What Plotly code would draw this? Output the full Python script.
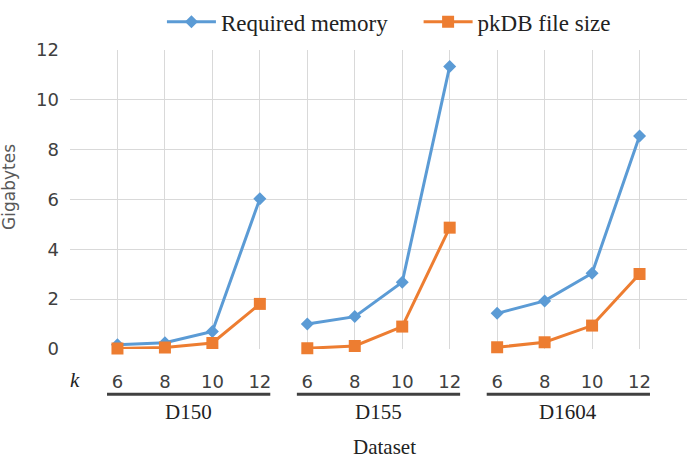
import plotly.graph_objects as go

groups = ["D150", "D155", "D1604"]
k_values = [6, 8, 10, 12]
required_memory = {
    "D150": [0.17, 0.25, 0.70, 6.03],
    "D155": [1.00, 1.30, 2.68, 11.34],
    "D1604": [1.43, 1.93, 3.04, 8.55],
}
pkdb_size = {
    "D150": [0.02, 0.06, 0.24, 1.81],
    "D155": [0.03, 0.12, 0.90, 4.87],
    "D1604": [0.07, 0.27, 0.94, 3.01],
}
y_ticks = [0, 2, 4, 6, 8, 10, 12]

BLUE = "#5B9BD5"
ORANGE = "#ED7D31"
GRID = "#D9D9D9"
SERIF = "Liberation Serif"
SANS = "DejaVu Sans"

n_k = len(k_values)

def build(series):
    xs, ys = [], []
    for gi, g in enumerate(groups):
        for ki, v in enumerate(series[g]):
            xs.append(gi * n_k + ki)
            ys.append(v)
        xs.append(None)
        ys.append(None)
    return xs, ys

fig = go.Figure()
x1, y1 = build(required_memory)
fig.add_trace(go.Scatter(
    x=x1, y=y1, name="Required memory", mode="lines+markers", legend="legend",
    line=dict(color=BLUE, width=3), connectgaps=False,
    marker=dict(symbol="diamond", size=10, color=BLUE), cliponaxis=False))
x2, y2 = build(pkdb_size)
fig.add_trace(go.Scatter(
    x=x2, y=y2, name="pkDB file size", mode="lines+markers", legend="legend2",
    line=dict(color=ORANGE, width=3), connectgaps=False,
    marker=dict(symbol="square", size=12, color=ORANGE), cliponaxis=False))

n_total = len(groups) * n_k
tickvals = list(range(-1, n_total + 1))
ticktext = [""] + [str(k) for _ in groups for k in k_values] + [""]

annotations = []
shapes = []
for gi, g in enumerate(groups):
    center = gi * n_k + (n_k - 1) / 2
    half = (n_k - 1) / 2 + 0.22
    shapes.append(dict(type="line", xref="x", yref="paper",
                       x0=center - half, x1=center + half, y0=-0.151, y1=-0.151,
                       line=dict(color="#404040", width=3)))
    annotations.append(dict(text=g, xref="x", yref="paper", x=center, y=-0.21,
                            showarrow=False, yanchor="middle",
                            font=dict(family=SERIF, size=21, color="#222222")))

annotations.append(dict(text="<i>k</i>", xref="x", yref="paper", x=-0.89, y=-0.104,
                        showarrow=False, yanchor="middle",
                        font=dict(family=SERIF, size=21, color="#222222")))
annotations.append(dict(text="Dataset", xref="paper", yref="paper", x=0.51, y=-0.328,
                        showarrow=False, yanchor="middle",
                        font=dict(family=SERIF, size=21, color="#222222")))
annotations.append(dict(text="Gigabytes", xref="paper", yref="paper", x=0, xshift=-61,
                        y=0.542, textangle=-90, showarrow=False, xanchor="center",
                        yanchor="middle",
                        font=dict(family=SANS, size=17, color="#595959")))

leg_common = dict(orientation="h", y=1.166, yanchor="top",
                  font=dict(family=SERIF, size=23, color="#222222"),
                  itemwidth=49, bgcolor="rgba(0,0,0,0)")

fig.update_layout(
    width=687, height=462,
    margin=dict(l=70, r=0, t=50, b=113),
    paper_bgcolor="white", plot_bgcolor="white",
    showlegend=True,
    legend=dict(x=0.149, xanchor="left", **leg_common),
    legend2=dict(x=0.565, xanchor="left", **leg_common),
    xaxis=dict(range=[-1, n_total], tickmode="array", tickvals=tickvals, ticktext=ticktext,
               showgrid=True, gridcolor=GRID, gridwidth=1, zeroline=False,
               showline=False, ticks="", ticklabelstandoff=20,
               tickfont=dict(family=SANS, size=18, color="#404040")),
    yaxis=dict(range=[0, 12], tickmode="array", tickvals=y_ticks,
               showgrid=True, gridcolor=GRID, gridwidth=1, zeroline=False,
               showline=False, ticks="", ticklabelstandoff=10,
               tickfont=dict(family=SANS, size=18, color="#404040")),
    annotations=annotations, shapes=shapes,
)

fig.write_html("out.html")
